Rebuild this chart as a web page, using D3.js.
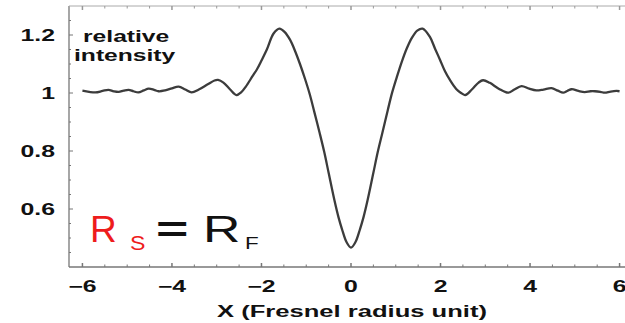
<!DOCTYPE html>
<html>
<head>
<meta charset="utf-8">
<script src="https://cdn.jsdelivr.net/npm/d3@7"></script>
<style>
  html, body { margin: 0; padding: 0; background: #fff; }
  svg { display: block; }
  text { font-family: "Liberation Sans", Arial, Helvetica, sans-serif; }
</style>
</head>
<body>
<svg id="chart" width="625" height="323"></svg>
<script>
// ---- data ----
const xValues = [
  -6.00, -5.85, -5.71, -5.55, -5.42, -5.30, -5.19, -5.08, -4.97, -4.86,
  -4.75, -4.63, -4.52, -4.40, -4.30, -4.15, -4.00, -3.85, -3.70, -3.56,
  -3.40, -3.20, -3.05, -2.97, -2.85, -2.70, -2.56, -2.45, -2.35, -2.20,
  -2.10, -2.00, -1.88, -1.73, -1.60, -1.48, -1.36, -1.25, -1.14, -1.03,
  -0.92, -0.82, -0.70, -0.60, -0.50, -0.37, -0.28, -0.20, -0.10, 0.00,
   0.10,  0.20,  0.28,  0.37,  0.50,  0.60,  0.70,  0.82,  0.92,  1.03,
   1.14,  1.25,  1.36,  1.48,  1.60,  1.76,  1.88,  1.99,  2.10,  2.21,
   2.35,  2.45,  2.55,  2.70,  2.85,  2.95,  3.10,  3.30,  3.51,  3.65,
   3.81,  3.98,  4.14,  4.30,  4.48,  4.62,  4.74,  4.83,  4.93,  5.08,
   5.22,  5.35,  5.45,  5.57,  5.67,  5.80,  5.93,  6.00
];
const intensity = [
  1.008, 1.004, 1.002, 1.007, 1.011, 1.006, 1.004, 1.008, 1.011, 1.006,
  1.002, 1.009, 1.015, 1.011, 1.006, 1.009, 1.016, 1.022, 1.012, 1.002,
  1.012, 1.030, 1.043, 1.045, 1.036, 1.012, 0.993, 1.003, 1.022, 1.058,
  1.082, 1.112, 1.150, 1.205, 1.222, 1.210, 1.183, 1.145, 1.100, 1.050,
  0.995, 0.935, 0.862, 0.798, 0.725, 0.630, 0.572, 0.530, 0.486, 0.467,
  0.486, 0.530, 0.572, 0.630, 0.725, 0.798, 0.862, 0.940, 1.002, 1.058,
  1.110, 1.155, 1.190, 1.215, 1.222, 1.194, 1.152, 1.114, 1.075, 1.045,
  1.014, 1.001, 0.993, 1.012, 1.036, 1.044, 1.035, 1.015, 1.001, 1.012,
  1.024, 1.015, 1.009, 1.012, 1.017, 1.008, 1.001, 1.007, 1.013, 1.007,
  1.003, 1.006, 1.006, 1.004, 1.001, 1.005, 1.007, 1.006
];
const xTicks = [-6, -4, -2, 0, 2, 4, 6];
const xTickLabels = ["\u22126", "\u22124", "\u22122", "0", "2", "4", "6"];
const yTicks = [0.6, 0.8, 1, 1.2];
const yTickLabels = ["0.6", "0.8", "1", "1.2"];
const yAxisLabel = ["relative", "intensity"];
const xAxisLabel = "X (Fresnel radius unit)";

// ---- layout ----
const svg = d3.select("#chart");
const x = d3.scaleLinear().domain([-6.3, 6.3]).range([69, 633]);
const y = d3.scaleLinear().domain([0.4, 1.3]).range([267, 6]);
const stretch = 1.55;
const axisColor = "#777";

// frame lines
svg.append("line").attr("x1", x(-6.3)).attr("x2", 625).attr("y1", y(0.4)).attr("y2", y(0.4))
  .attr("stroke", axisColor).attr("stroke-width", 1.3);
svg.append("line").attr("x1", x(-6.3)).attr("x2", x(-6.3)).attr("y1", y(1.3)).attr("y2", y(0.4))
  .attr("stroke", axisColor).attr("stroke-width", 1.3);
svg.append("line").attr("x1", x(-6.3)).attr("x2", 625).attr("y1", y(1.3)).attr("y2", y(1.3))
  .attr("stroke", "#aaa").attr("stroke-width", 1);

// x ticks (bottom & top), minor every 0.5
const xMinor = d3.range(-6, 6.01, 0.5);
xMinor.forEach(v => {
  const major = Math.abs(v % 2) < 1e-9;
  const len = major ? 4 : 2.5;
  svg.append("line").attr("x1", x(v)).attr("x2", x(v))
    .attr("y1", y(0.4)).attr("y2", y(0.4) - len)
    .attr("stroke", axisColor).attr("stroke-width", major ? 1.5 : 1);
  svg.append("line").attr("x1", x(v)).attr("x2", x(v))
    .attr("y1", y(1.3)).attr("y2", y(1.3) + len)
    .attr("stroke", "#999").attr("stroke-width", major ? 1.5 : 1);
});
// y ticks, minor every 0.05
const yMinor = d3.range(0.45, 1.2501, 0.05);
yMinor.forEach(v => {
  const major = yTicks.some(t => Math.abs(t - v) < 1e-6);
  const len = major ? 4 : 2;
  svg.append("line").attr("x1", x(-6.3)).attr("x2", x(-6.3) + len)
    .attr("y1", y(v)).attr("y2", y(v))
    .attr("stroke", axisColor).attr("stroke-width", 1);
});

// tick labels
const labStyle = sel => sel.attr("font-weight", "bold").attr("font-size", 16).attr("fill", "#111");
xTicks.forEach((v, i) => {
  svg.append("text")
    .attr("transform", `translate(${x(v)},292) scale(${stretch},1)`)
    .attr("text-anchor", "middle")
    .text(xTickLabels[i]).call(labStyle);
});
yTicks.forEach((v, i) => {
  svg.append("text")
    .attr("transform", `translate(55,${y(v) + 6}) scale(${stretch},1)`)
    .attr("text-anchor", "end")
    .text(yTickLabels[i]).call(labStyle);
});

// axis labels
svg.append("text")
  .attr("transform", `translate(352,317) scale(${stretch},1)`)
  .attr("text-anchor", "middle")
  .attr("font-weight", "bold").attr("font-size", 16.5).attr("fill", "#111")
  .text(xAxisLabel);
svg.append("text")
  .attr("transform", `translate(83,42) scale(1.45,1)`)
  .attr("font-weight", "bold").attr("font-size", 17).attr("fill", "#111")
  .text(yAxisLabel[0]);
svg.append("text")
  .attr("transform", `translate(74,61) scale(1.45,1)`)
  .attr("font-weight", "bold").attr("font-size", 17).attr("fill", "#111")
  .text(yAxisLabel[1]);

// curve
const pts = xValues.map((v, i) => [v, intensity[i]]);
const line = d3.line().x(d => x(d[0])).y(d => y(d[1])).curve(d3.curveCatmullRom.alpha(0.5));
svg.append("path").attr("d", line(pts))
  .attr("fill", "none").attr("stroke", "#3c3c3c").attr("stroke-width", 2.3)
  .attr("stroke-linejoin", "round");

// annotation R_S = R_F
const red = "#ee1c1c";
svg.append("text").attr("transform", "translate(90,242)").attr("font-size", 37).attr("fill", red).text("R");
svg.append("text").attr("transform", "translate(130,250) scale(1.1,1)").attr("font-size", 21).attr("fill", red).text("S");
svg.append("text").attr("transform", "translate(156,242) scale(1.5,1)").attr("font-size", 37)
  .attr("font-weight", "bold").attr("fill", "#111").text("=");
svg.append("text").attr("transform", "translate(203,242) scale(1.4,1)").attr("font-size", 37).attr("fill", "#111").text("R");
svg.append("text").attr("transform", "translate(245,249) scale(1.4,1)").attr("font-size", 16).attr("fill", "#111").text("F");
</script>
</body>
</html>
